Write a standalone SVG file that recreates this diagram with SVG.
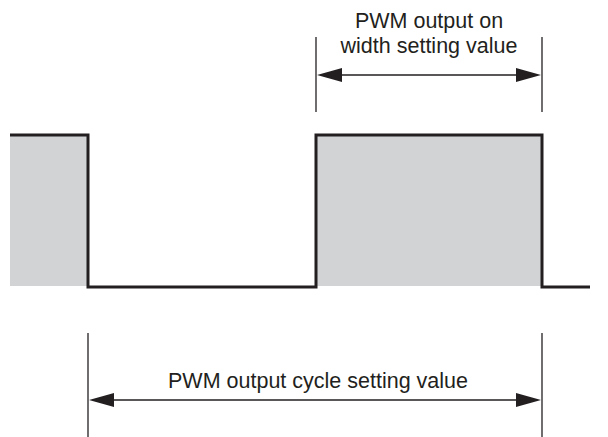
<svg xmlns="http://www.w3.org/2000/svg" width="608" height="437" viewBox="0 0 608 437">
<style>
.wave{fill:none;stroke:#231f20;stroke-width:3;stroke-linejoin:miter}
.fill{fill:#d1d3d4;stroke:none}
.ref{stroke:#231f20;stroke-width:1.3;fill:none}
.arr{fill:#231f20}
.lbl{font-family:"Liberation Sans",Arial,sans-serif;font-size:21.5px;fill:#231f20;text-anchor:middle}
</style>
<g id="waveform">
<rect class="fill" x="10" y="135" width="78" height="151"/>
<rect class="fill" x="316" y="135" width="226" height="151"/>
<path class="wave" d="M10,135 H88 V287 H316 V135 H542 V287 H590"/>
</g>
<g id="connectors">
<line class="ref" x1="316" y1="37" x2="316" y2="112"/>
<line class="ref" x1="542" y1="37" x2="542" y2="112"/>
<line class="ref" x1="330" y1="75" x2="528" y2="75"/>
<polygon class="arr" points="317,75 342,68 342,82"/>
<polygon class="arr" points="541,75 516,68 516,82"/>
<line class="ref" x1="88" y1="333" x2="88" y2="437"/>
<line class="ref" x1="542" y1="333" x2="542" y2="437"/>
<line class="ref" x1="100" y1="400" x2="530" y2="400"/>
<polygon class="arr" points="89,400 114,393 114,407"/>
<polygon class="arr" points="541,400 516,393 516,407"/>
</g>
<g id="label-width">
<text class="lbl" x="429" y="28">PWM output on</text>
<text class="lbl" x="429" y="53">width setting value</text>
</g>
<g id="label-cycle">
<text class="lbl" x="318" y="388">PWM output cycle setting value</text>
</g>
</svg>
